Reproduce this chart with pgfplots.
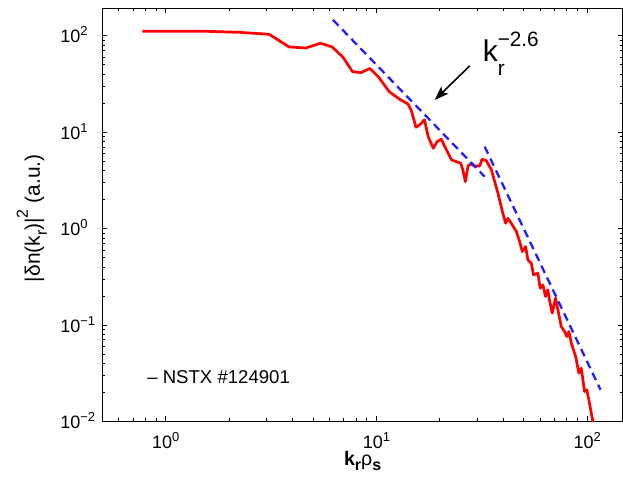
\documentclass[border=0pt]{standalone}
\usepackage{fontspec}
\setmainfont{Liberation Sans}
\usepackage{pgfplots}
\pgfplotsset{compat=1.18}
\usetikzlibrary{arrows.meta}
\definecolor{spec}{RGB}{255,0,0}
\definecolor{fitb}{RGB}{30,30,255}
% MATLAB-style log tick label: "10" with a small raised exponent
\newcommand{\tl}[1]{10\raisebox{3.5pt}{\fontsize{6.5}{7}\selectfont #1}}

\begin{document}
\begin{tikzpicture}
\begin{axis}[
  name=ax,
  xmode=log, ymode=log,
  scale only axis,
  width=260.6pt, height=206.6pt,
  xmin=0.5, xmax=147.8,
  ymin=0.01, ymax=192.8,
  axis line style={line width=0.6pt},
  tick style={line width=0.5pt, black},
  tick align=inside, tick pos=both,
  major tick length=2.5pt, minor tick length=1.5pt,
  xtick={1,10,100},
  xticklabels={\tl{0},\tl{1},\tl{2}},
  minor xtick={0.6,0.7,0.8,0.9,2,3,4,5,6,7,8,9,20,30,40,50,60,70,80,90},
  ytick={0.01,0.1,1,10,100},
  yticklabels={\tl{−2},\tl{−1},\tl{0},\tl{1},\tl{2}},
  minor ytick={0.02,0.03,0.04,0.05,0.06,0.07,0.08,0.09,0.2,0.3,0.4,0.5,0.6,0.7,0.8,0.9,2,3,4,5,6,7,8,9,20,30,40,50,60,70,80,90},
  xticklabel style={font=\fontsize{9}{10}\selectfont, anchor=base, inner sep=0pt, yshift=-13.8pt},
  yticklabel style={font=\fontsize{9}{10}\selectfont, anchor=base west, inner sep=0pt, xshift=-21.15pt, yshift=-3.5pt},
  xlabel={\textbf{k}\raisebox{-2.5pt}{\fontsize{8}{9}\selectfont\bfseries r}ρ\raisebox{-2.5pt}{\fontsize{8}{9}\selectfont\bfseries s}},
  xlabel style={font=\fontsize{9.8}{11}\selectfont, at={(axis description cs:0.5,0)}, anchor=base, inner sep=0pt, yshift=-22.2pt},
  ylabel={|δn(k\raisebox{-3.5pt}{\fontsize{8}{9}\selectfont r})|\raisebox{6pt}{\fontsize{8}{9}\selectfont 2} (a.u.)},
  ylabel style={font=\fontsize{10.5}{12}\selectfont, at={(axis description cs:-0.1195,0.492)}, rotate=0, anchor=base, inner sep=0pt},
  clip=true,
]
% measured fluctuation spectrum
\addplot[spec, line width=1.35pt, line join=round] coordinates {
(0.775,112) (1.51,112) (2.25,109) (3.1,104) (3.85,77) (4.61,75) (5.43,84)
(6.16,77) (6.95,60) (7.70,42.6) (8.43,41.6) (9.30,46) (10.2,37.8) (11.5,26.4)
(12.9,22) (14.1,19.7) (14.6,17.1) (15.4,11.3) (16.0,11.9) (16.9,13.5) (17.6,9.0)
(18.6,6.84) (19.4,8.0) (20.3,8.48) (21.5,6.56) (22.7,5.17) (23.9,4.97) (25.1,4.78)
(25.7,4.08) (26.4,3.08) (27.2,4.48) (28.0,4.70) (29.2,4.48) (30.9,4.48) (31.7,5.26)
(33.2,5.08) (35.1,4.08) (37.7,2.34) (39.6,1.50) (41.0,1.14) (42.0,1.28) (43.6,1.14)
(46.1,0.933) (47.8,0.735) (49.2,0.578) (51.0,0.652) (52.3,0.474) (54.3,0.438)
(55.6,0.332) (58.3,0.345) (59.8,0.241) (61.6,0.261) (63.4,0.198) (65.0,0.232)
(66.2,0.182) (68.2,0.133) (70.7,0.190) (72.6,0.144) (75.3,0.0965) (78.0,0.0857)
(80.0,0.0760) (81.8,0.0857) (84.0,0.0648) (88.1,0.0471) (91.3,0.0317) (93.7,0.0357)
(97.1,0.0204) (99.6,0.0213) (101.8,0.0167) (104.5,0.0122) (106.4,0.01) (107.2,0.009)
};
% power-law guide lines
\addplot[fitb, line width=1.15pt, dash pattern=on 4pt off 2.6pt] coordinates {(6.22,146.6) (32.6,3.47)};
\addplot[fitb, line width=1.15pt, dash pattern=on 4pt off 2.6pt] coordinates {(32.6,7.11) (115.6,0.0213)};
\draw[line width=0.8pt, -{Stealth[length=7pt,width=5pt,inset=1.5pt]}] (axis cs:27.7,48.9) -- (axis cs:18.9,21.7);
\node[anchor=base west, inner sep=0pt] at (axis cs:31.8,54.2)
  {\fontsize{15}{18}\selectfont k\rlap{\raisebox{-7.2pt}{\fontsize{10.4}{12}\selectfont r}}\raisebox{7.5pt}{\fontsize{10.4}{12}\selectfont −2.6}};
\node[anchor=base west, inner sep=0pt, font=\fontsize{9.3}{11}\selectfont] at (axis cs:0.815,0.02455) {– NSTX \#124901};
\end{axis}
\pgfresetboundingbox
\path[use as bounding box] ([xshift=-51.15pt,yshift=-27.65pt]ax.south west) rectangle ([yshift=4.25pt]ax.north east);
\end{tikzpicture}
\end{document}
